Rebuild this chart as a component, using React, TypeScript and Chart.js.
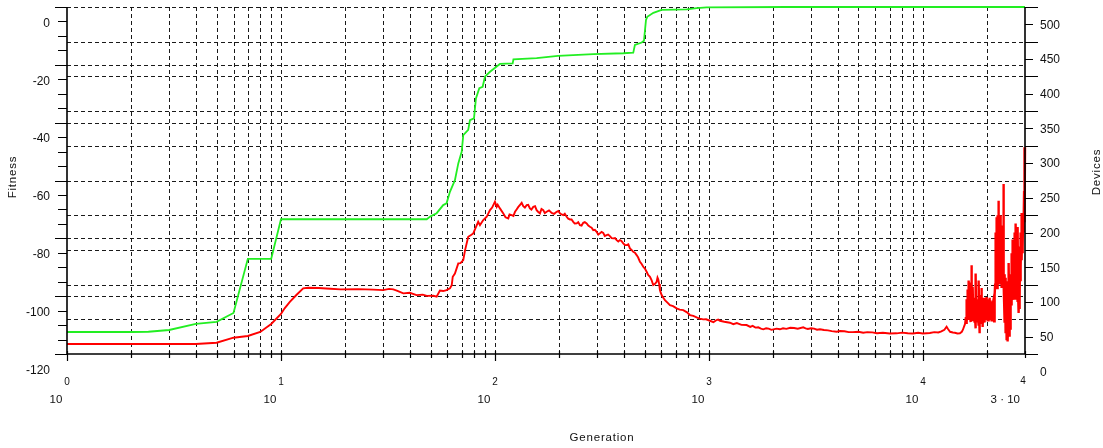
import React, { useEffect, useRef } from 'react';
import { Chart, registerables } from 'chart.js';

Chart.register(...registerables);

const W = 1103;
const H = 448;

// ---------- axis definitions ----------
const genMin = 1;
const genMax = 30000;
const genTickValues = [
  1, 2, 3, 4, 5, 6, 7, 8, 9,
  10, 20, 30, 40, 50, 60, 70, 80, 90,
  100, 200, 300, 400, 500, 600, 700, 800, 900,
  1000, 2000, 3000, 4000, 5000, 6000, 7000, 8000, 9000,
  10000, 20000, 30000,
];
const genGridValues = [
  2, 3, 4, 5, 6, 7, 8, 9,
  10, 20, 30, 40, 50, 60, 70, 80, 90,
  100, 200, 300, 400, 500, 600, 700, 800, 900,
  1000, 2000, 3000, 4000, 5000, 6000, 7000, 8000, 9000,
  10000, 20000,
];
const genDecades = [1, 10, 100, 1000, 10000];
const genExponents = ['0', '1', '2', '3', '4'];
const genLastLabel = '3 · 10';
const genLastExponent = '4';

const fitnessMin = -115;
const fitnessMax = 5;
const fitnessTickValues = [
  -115, -110, -105, -100, -95, -90, -85, -80, -75, -70, -65, -60,
  -55, -50, -45, -40, -35, -30, -25, -20, -15, -10, -5, 0, 5,
];
const fitnessGridValues = [-115, -95, -75, -55, -35, -15, 5];
const fitnessLabelValues = [-120, -100, -80, -60, -40, -20, 0];

const devicesMin = 25;
const devicesMax = 525;
const devicesTickValues = [
  25, 50, 75, 100, 125, 150, 175, 200, 225, 250, 275,
  300, 325, 350, 375, 400, 425, 450, 475, 500, 525,
];
const devicesGridValues = [25, 75, 125, 175, 225, 275, 325, 375, 425, 475, 525];
const devicesLabelValues = [0, 50, 100, 150, 200, 250, 300, 350, 400, 450, 500];

const xTitle = 'Generation';
const yLeftTitle = 'Fitness';
const yRightTitle = 'Devices';

// ---------- data: [generation, value] ----------
const fitnessSeries: [number, number][] = [
  [1, -107.4], [2, -107.4], [2.4, -107.3], [3, -106.7], [4, -104.6], [5, -103.9],
  [6, -100.8], [7, -82.1], [9, -82.1], [10, -68.4], [48, -68.4], [50, -67.4],
  [53.4, -66.3], [57.3, -63.5], [59.4, -62.9], [61.6, -58.9], [65, -54.9],
  [67.4, -49.1], [69.9, -45.1], [71.1, -39.3], [75, -37.5], [76.4, -34.1],
  [79.8, -33.5], [81.5, -26.6], [84.5, -23.1], [87.6, -22.6], [89.8, -19.1],
  [94.8, -17.4], [101.9, -15.6], [105.5, -14.7], [121, -14.5], [122, -13.1],
  [156.6, -12.7], [197, -11.9], [288, -11.3], [398, -11.0], [443, -10.8],
  [451, -8.1], [485, -7.3], [497, -6.7], [508, 0.5], [515, 1.6], [550, 3.0],
  [601, 4.0], [787, 4.2], [877, 4.6], [975, 4.9], [2307, 5.0], [30000, 5.0],
];

const devicesEarly: [number, number][] = [
  [1, 39.4], [2, 39.4], [3, 39.4], [4, 39.4], [5, 41.3], [6, 48.5], [7, 51],
  [8, 56.7], [9, 68.2], [10, 82.6], [10.4, 90.8], [11, 100], [11.8, 110],
  [12.7, 119.6], [13.4, 120.5], [15, 120], [17, 119], [19, 118.1], [23, 118.5],
  [27, 117.8], [30, 117.1], [32, 118.8], [33.5, 118.1], [35, 116], [37.3, 112.4],
  [40, 113.2], [43, 109.9], [46, 110.5], [48, 108.8], [51.5, 108.9], [53.4, 107.5],
  [55.3, 116.5], [57.3, 115.7], [59.4, 117], [61.6, 119.6], [62.8, 124.3],
  [63.5, 136.3], [65, 141], [67.4, 155.6], [69, 156], [71.1, 160.3], [72.5, 174.7],
  [75, 193.9], [77, 196], [79.2, 198.7], [81, 206], [83.5, 215.5], [85.1, 210.7],
  [88.2, 218], [91.5, 222.7], [94.8, 232.3], [97, 236],
];

const devicesMiddle: [number, number][] = [
  [100, 244.3], [101.9, 237], [103, 240], [105.5, 234.8], [109.4, 227.6],
  [112, 222], [115.4, 220.4], [117, 226], [119.7, 225.1], [122, 224],
  [124.1, 229.9], [126, 233], [128.6, 237], [131, 240], [133.3, 242.8],
  [135.6, 238.1], [138, 236], [140.7, 239.5], [143, 240], [145.7, 234.8],
  [148, 233], [151.1, 237], [154, 238], [156.6, 232.3], [159, 230],
  [162.3, 227.6], [165, 234], [168.2, 232.3], [171, 228], [174.4, 229.9],
  [179, 232], [184.1, 228.4], [189, 227], [194.2, 229.9], [198, 231],
  [201.2, 227.6], [205, 226], [208.5, 225.1], [212, 227], [216.3, 222.7],
  [220, 220], [224.1, 218.9], [228, 219], [232.2, 215.5], [236, 213],
  [240.9, 213.2], [245, 215], [249.6, 210.7], [254, 210], [258.6, 214],
  [263, 215], [268.3, 213.2], [273, 210], [277.9, 208.3], [283, 207],
  [288, 203.5], [293, 204], [298.7, 201.1], [304, 197], [309.5, 198.8],
  [315, 201], [320.7, 199.6], [326, 195], [332.6, 196.3], [338, 197],
  [344.6, 194.9], [351, 192], [357.1, 191.6], [364, 192], [370.5, 189.1],
  [377, 187], [383.8, 189.1], [390, 188], [397.7, 184.4], [405, 182],
  [412.5, 181.9], [420, 183], [427.3, 177.2], [435, 175], [442.9, 172.3],
  [451, 171], [459.3, 167.5], [467, 164], [476, 157.9], [484, 155],
  [493.2, 150.7], [502, 148], [511.5, 143.5], [520, 139], [530.2, 136.3],
  [540, 131], [549.3, 124.3], [560, 126], [569.7, 129.1], [575, 135],
  [579.6, 132.5], [585, 126], [590.2, 117.1], [596, 113], [601.2, 109.9],
  [612, 106], [622.8, 102.7], [640, 99], [657.4, 95.5], [680, 94],
  [706.2, 90.8], [730, 89], [758.6, 88.3], [790, 85], [815.2, 81.1],
  [845, 80], [876, 77.8], [905, 76], [940.6, 74.9], [970, 75], [1011, 72.9],
  [1050, 71], [1086, 73.9], [1105, 74.5], [1126, 72.9],
];

const devicesLate: [number, number][] = [
  [1180, 71.5], [1253, 70.1], [1300, 68], [1350, 69.5], [1420, 67], [1500, 66.7],
  [1560, 64], [1600, 65.5], [1650, 63], [1700, 63.5], [1750, 61.5], [1794, 60.6],
  [1850, 62], [1900, 61.5], [1960, 59.8], [2000, 60.5], [2070, 61.5], [2147, 60.6],
  [2220, 62], [2300, 61.2], [2400, 62.8], [2500, 62.5], [2600, 61.5], [2759, 63.4],
  [2830, 62], [2900, 61], [3000, 62], [3100, 61.5], [3200, 60], [3302, 60.6],
  [3450, 59.5], [3600, 59], [3750, 58], [3952, 57.1], [4100, 58.2], [4300, 57.8],
  [4500, 56.5], [4700, 56.5], [5000, 57], [5260, 55.6], [5500, 56.5], [5800, 56.2],
  [6100, 55], [6500, 55.6], [7000, 54.5], [7538, 54.8], [8000, 55.8], [8500, 55],
  [9000, 54.5], [9500, 55.5], [10000, 54.6], [10780, 55.2], [11300, 56.5],
  [11800, 56], [12200, 57.5], [12600, 60], [12900, 64.3], [13100, 61], [13400, 57],
  [13800, 56], [14110, 55.6], [14500, 54.5], [14890, 54.8], [15200, 57],
  [15380, 60], [15550, 64], [15720, 68],
];

const devicesNoisy: [number, number][] = [
  [15880, 78], [15923, 70], [15966, 96], [16009, 104], [16052, 72], [16095, 80],
  [16138, 118], [16181, 100], [16225, 76], [16269, 92], [16313, 105], [16357, 74],
  [16401, 131], [16445, 108], [16489, 82], [16533, 100], [16578, 110], [16622, 80],
  [16667, 71], [16712, 104], [16757, 128], [16802, 84], [16848, 153], [16893, 104],
  [16938, 88], [16984, 74], [17030, 112], [17076, 96], [17122, 122], [17168, 84],
  [17214, 78], [17260, 104], [17307, 100], [17353, 82], [17400, 70], [17447, 106],
  [17494, 94], [17541, 76], [17588, 62], [17635, 100], [17683, 141], [17730, 72],
  [17778, 90], [17826, 76], [17874, 104], [17922, 100], [17971, 80], [18019, 104],
  [18068, 98], [18116, 76], [18165, 66], [18214, 102], [18263, 131], [18312, 84],
  [18362, 55], [18411, 76], [18461, 102], [18510, 70], [18560, 84], [18610, 104],
  [18660, 110], [18710, 76], [18761, 120], [18811, 88], [18862, 78], [18913, 106],
  [18964, 100], [19015, 84], [19066, 64], [19117, 104], [19169, 96], [19221, 70],
  [19273, 82], [19325, 76], [19377, 106], [19429, 96], [19481, 75], [19533, 88],
  [19586, 99], [19639, 74], [19692, 86], [19745, 98], [19798, 107], [19851, 86],
  [19905, 74], [19958, 104], [20012, 95], [20066, 72], [20120, 80], [20174, 92],
  [20229, 103], [20283, 80], [20338, 72], [20393, 96], [20448, 98], [20503, 74],
  [20558, 106], [20613, 84], [20669, 76], [20724, 102], [20780, 93], [20836, 80],
  [20892, 72], [20948, 94], [21005, 100], [21061, 74], [21118, 80], [21175, 84],
  [21232, 96], [21289, 100], [21347, 72], [21404, 84], [21462, 90], [21520, 72],
  [21578, 78], [21636, 96], [21694, 110], [21752, 125], [21811, 140], [21870, 200],
  [21929, 175], [21988, 130], [22047, 222], [22106, 180], [22166, 150], [22225, 120],
  [22285, 225], [22345, 190], [22406, 160], [22466, 130], [22526, 246], [22587, 200],
  [22648, 130], [22709, 170], [22770, 210], [22831, 125], [22893, 150], [22954, 200],
  [23016, 225], [23078, 175], [23140, 135], [23202, 210], [23265, 190], [23328, 140],
  [23391, 120], [23454, 160], [23517, 200], [23580, 130], [23644, 160], [23707, 210],
  [23771, 270], [23835, 180], [23899, 128], [23963, 100], [24028, 140], [24093, 70],
  [24158, 80], [24223, 135], [24288, 120], [24353, 70], [24419, 55], [24485, 125],
  [24551, 100], [24617, 60], [24683, 45], [24749, 90], [24816, 130], [24883, 70],
  [24950, 43], [25017, 80], [25085, 110], [25152, 60], [25220, 156], [25288, 90],
  [25356, 50], [25424, 140], [25493, 120], [25561, 80], [25630, 60], [25699, 110],
  [25768, 140], [25837, 100], [25907, 95], [25977, 140], [26047, 170], [26117, 120],
  [26188, 110], [26258, 150], [26329, 190], [26400, 130], [26471, 103], [26542, 175],
  [26614, 160], [26685, 110], [26757, 120], [26829, 185], [26901, 200], [26973, 105],
  [27046, 130], [27119, 170], [27192, 213], [27265, 140], [27339, 115], [27412, 160],
  [27486, 180], [27560, 120], [27634, 100], [27708, 160], [27783, 208], [27858, 110],
  [27933, 130], [28008, 170], [28084, 84], [28159, 120], [28235, 170], [28311, 90],
  [28387, 105], [28463, 180], [28540, 200], [28617, 130], [28694, 150], [28771, 190],
  [28849, 228], [28926, 170], [29004, 160], [29082, 215], [29161, 220], [29239, 170],
  [29318, 180], [29397, 225], [29476, 228], [29555, 200], [29635, 210], [29715, 260],
  [29795, 323], [29900, 215], [30000, 323],
];

const FONT = '"Liberation Sans", Arial, sans-serif';

const axesPlugin = {
  id: 'classicAxes',
  beforeDatasetsDraw(chart: any) {
    const { ctx, chartArea } = chart;
    const { left, right, top, bottom } = chartArea;
    const xs = chart.scales.x;
    const yl = chart.scales.y;
    const yr = chart.scales.y2;
    const snap = (v: number) => Math.round(v) + 0.5;
    ctx.save();
    ctx.strokeStyle = '#1a1a1a';
    ctx.lineWidth = 1;
    ctx.setLineDash([4, 3]);
    ctx.beginPath();
    for (const g of genGridValues) {
      const px = snap(xs.getPixelForValue(g));
      ctx.moveTo(px, top);
      ctx.lineTo(px, bottom);
    }
    for (const v of fitnessGridValues) {
      if (v === fitnessMin) continue;
      const py = snap(yl.getPixelForValue(v));
      ctx.moveTo(left, py);
      ctx.lineTo(right, py);
    }
    for (const v of devicesGridValues) {
      if (v === devicesMin) continue;
      const py = snap(yr.getPixelForValue(v));
      ctx.moveTo(left, py);
      ctx.lineTo(right, py);
    }
    ctx.stroke();
    ctx.restore();
  },
  afterDatasetsDraw(chart: any) {
    const { ctx, chartArea } = chart;
    const { left, right, top, bottom } = chartArea;
    const xs = chart.scales.x;
    const yl = chart.scales.y;
    const yr = chart.scales.y2;
    const snap = (v: number) => Math.round(v) + 0.5;
    ctx.save();
    ctx.setLineDash([]);
    ctx.strokeStyle = '#000';
    // axis lines
    ctx.lineWidth = 1.6;
    ctx.beginPath();
    ctx.moveTo(left, top);
    ctx.lineTo(left, bottom);
    ctx.moveTo(right, top);
    ctx.lineTo(right, bottom);
    ctx.moveTo(left, bottom);
    ctx.lineTo(right, bottom);
    ctx.stroke();
    // ticks
    ctx.lineWidth = 1.2;
    ctx.beginPath();
    for (const v of fitnessTickValues) {
      const py = snap(yl.getPixelForValue(v));
      const len = fitnessGridValues.includes(v) ? 12 : 9;
      ctx.moveTo(left - len, py);
      ctx.lineTo(left, py);
    }
    for (const v of devicesTickValues) {
      const py = snap(yr.getPixelForValue(v));
      const len = devicesGridValues.includes(v) ? 13 : 8;
      ctx.moveTo(right, py);
      ctx.lineTo(right + len, py);
    }
    for (const g of genTickValues) {
      const px = snap(xs.getPixelForValue(g));
      const isDecade = genDecades.includes(g);
      ctx.moveTo(px, bottom - 3);
      ctx.lineTo(px, bottom + (isDecade ? 7 : 4));
    }
    ctx.stroke();

    // labels
    ctx.fillStyle = '#111';
    ctx.font = `12px ${FONT}`;
    ctx.textBaseline = 'middle';
    ctx.textAlign = 'right';
    for (const v of fitnessLabelValues) {
      const py = yl.getPixelForValue(v);
      ctx.fillText(String(v), 50, py + 2);
    }
    ctx.textAlign = 'left';
    for (const v of devicesLabelValues) {
      const py = yr.getPixelForValue(v);
      ctx.fillText(String(v), right + 15, py + 1);
    }
    // x labels: base "10" with exponent written above
    genDecades.forEach((g, i) => {
      const px = xs.getPixelForValue(g);
      ctx.font = `10px ${FONT}`;
      ctx.textAlign = 'center';
      ctx.fillText(genExponents[i], px, bottom + 28);
      ctx.font = `11.5px ${FONT}`;
      ctx.fillText('10', px - 11, bottom + 46);
    });
    {
      const px = xs.getPixelForValue(genMax);
      ctx.font = `10px ${FONT}`;
      ctx.textAlign = 'center';
      ctx.fillText(genLastExponent, px - 2, bottom + 27);
      ctx.font = `11.5px ${FONT}`;
      ctx.textAlign = 'right';
      ctx.fillText(genLastLabel, px - 5, bottom + 46);
    }
    // titles
    ctx.font = `11.5px ${FONT}`;
    ctx.textAlign = 'center';
    (ctx as any).letterSpacing = '0.8px';
    ctx.fillText(xTitle, 602, 438);
    ctx.save();
    ctx.translate(13, 177);
    ctx.rotate(-Math.PI / 2);
    ctx.fillText(yLeftTitle, 0, 0);
    ctx.restore();
    ctx.save();
    ctx.translate(1097, 172);
    ctx.rotate(-Math.PI / 2);
    ctx.fillText(yRightTitle, 0, 0);
    ctx.restore();
    ctx.restore();
  },
};

const toPoints = (arr: [number, number][]) => arr.map(([x, y]) => ({ x, y }));

export default function App() {
  const ref = useRef<HTMLCanvasElement>(null);
  useEffect(() => {
    const canvas = ref.current;
    if (!canvas) return;
    const chart = new Chart(canvas, {
      type: 'line',
      data: {
        datasets: [
          {
            label: 'Devices',
            data: toPoints([...devicesEarly, ...devicesMiddle, ...devicesLate, ...devicesNoisy]),
            borderColor: '#ff0000',
            borderWidth: 1.9,
            pointRadius: 0,
            tension: 0,
            yAxisID: 'y2',
            xAxisID: 'x',
            clip: false,
            segment: {
              borderWidth: (c: any) => (c.p0.parsed.x >= 15800 ? 2.4 : 1.9),
            },
          },
          {
            label: 'Fitness',
            data: toPoints(fitnessSeries),
            borderColor: '#22ee22',
            borderWidth: 1.8,
            pointRadius: 0,
            tension: 0,
            yAxisID: 'y',
            xAxisID: 'x',
            clip: false,
          },
        ],
      },
      options: {
        responsive: false,
        animation: false,
        devicePixelRatio: 1,
        events: [],
        layout: { padding: { left: 67, right: 78, top: 7, bottom: 94 } },
        plugins: { legend: { display: false }, tooltip: { enabled: false }, title: { display: false } },
        scales: {
          x: { type: 'logarithmic', min: genMin, max: genMax, display: false },
          y: { type: 'linear', position: 'left', min: fitnessMin, max: fitnessMax, display: false },
          y2: { type: 'linear', position: 'right', min: devicesMin, max: devicesMax, display: false },
        },
      },
      plugins: [axesPlugin],
    } as any);
    return () => chart.destroy();
  }, []);
  return (
    <div style={{ position: 'absolute', left: 0, top: 0, width: W, height: H, background: '#fff' }}>
      <canvas ref={ref} width={W} height={H} style={{ display: 'block', width: W, height: H }} />
    </div>
  );
}
